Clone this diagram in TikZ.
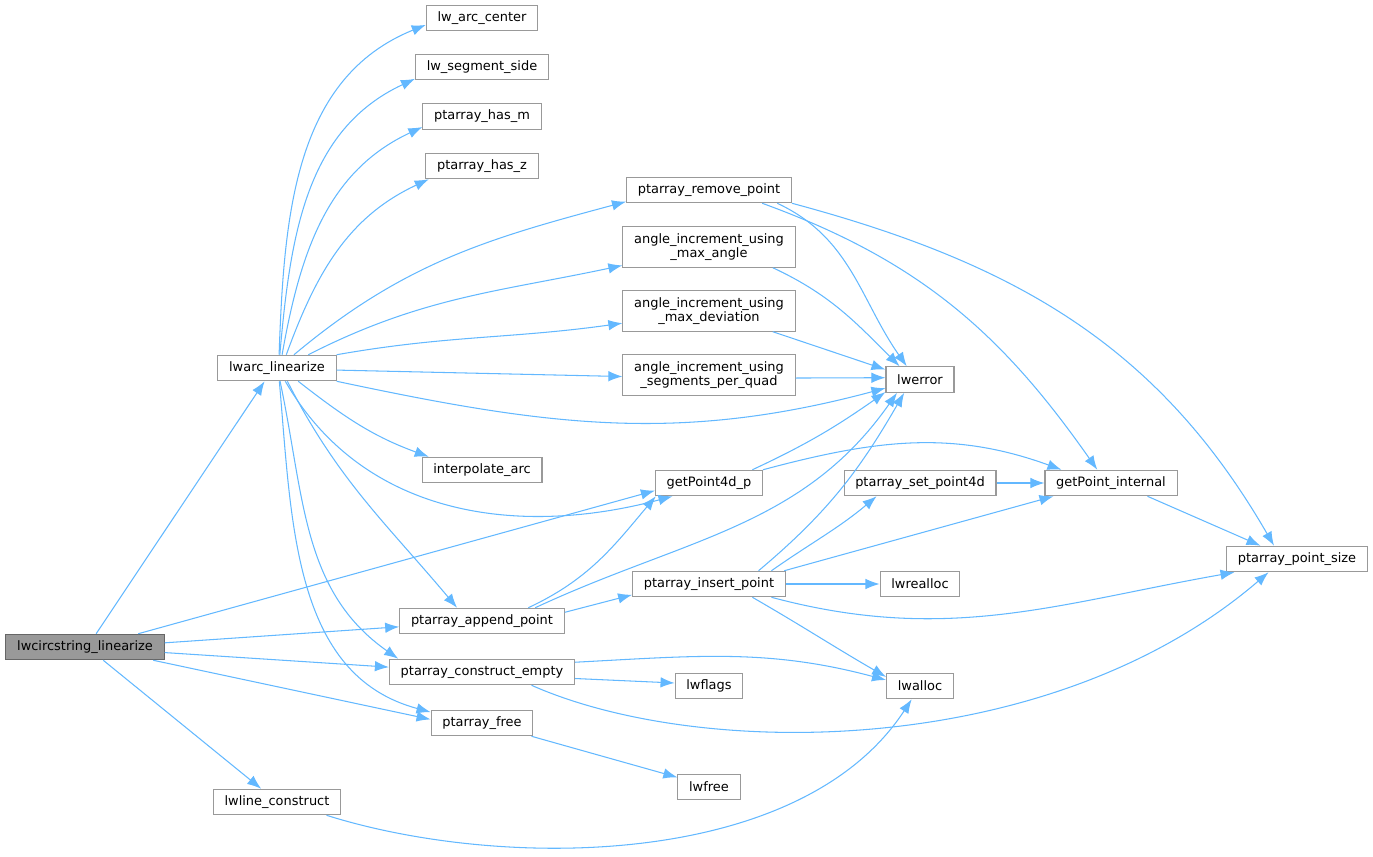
\documentclass[tikz,border=0pt]{standalone}
\usepackage{fontspec}
\setmainfont{DejaVu Sans}
\usetikzlibrary{arrows.meta}
\definecolor{edgeblue}{HTML}{63B8FF}
\definecolor{boxline}{HTML}{999999}
\definecolor{rootline}{HTML}{666666}
\definecolor{rootfill}{HTML}{999999}
\begin{document}
\begin{tikzpicture}[x=0.02cm,y=0.02cm,
  fn/.style={draw=boxline,fill=white,line width=0.6pt,inner xsep=6.4pt,inner ysep=0pt,minimum height=14.5pt,font=\fontsize{7.37}{8.1}\selectfont},
  fntwo/.style={fn,align=center,minimum height=23pt},
  root/.style={fn,draw=rootline,fill=rootfill},
  call/.style={draw=edgeblue,line width=0.6pt,-{Latex[length=8pt,width=6pt]}}]
\path[use as bounding box] (0,0) rectangle (1373,-856);

\node[root] (f0) at (85,-647) {lwcircstring\_linearize};
\node[fn] (arc) at (277,-368) {lwarc\_linearize};
\node[fn] (lwl) at (277,-802) {lwline\_construct};

\node[fn] (cen) at (482,-18) {lw\_arc\_center};
\node[fn] (side) at (482,-67) {lw\_segment\_side};
\node[fn] (hm) at (482,-116.5) {ptarray\_has\_m};
\node[fn] (hz) at (482,-166) {ptarray\_has\_z};
\node[fn] (intp) at (482,-470) {interpolate\_arc};
\node[fn] (app) at (482,-621) {ptarray\_append\_point};
\node[fn] (cemp) at (482,-672) {ptarray\_construct\_empty};
\node[fn] (pfree) at (482,-723) {ptarray\_free};

\node[fn] (rem) at (709,-190) {ptarray\_remove\_point};
\node[fntwo] (amax) at (709,-247) {angle\_increment\_using\\\_max\_angle};
\node[fntwo] (adev) at (709,-311) {angle\_increment\_using\\\_max\_deviation};
\node[fntwo] (aseg) at (709,-375) {angle\_increment\_using\\\_segments\_per\_quad};
\node[fn] (gp4) at (709,-483) {getPoint4d\_p};
\node[fn] (ins) at (709,-584) {ptarray\_insert\_point};
\node[fn] (flags) at (709,-686) {lwflags};
\node[fn] (free) at (709,-787) {lwfree};

\node[fn] (err) at (920,-379.5) {lwerror};
\node[fn] (set4) at (920,-483) {ptarray\_set\_point4d};
\node[fn] (realloc) at (920,-584) {lwrealloc};
\node[fn] (alloc) at (920,-686) {lwalloc};
\node[fn] (gpi) at (1111,-483) {getPoint\_internal};
\node[fn] (psize) at (1297,-559) {ptarray\_point\_size};

\draw[call] (f0.50) -- (arc.-133);
\draw[call] (f0.14) -- (gp4.-172);
\draw[call] (f0.3) -- (app.184);
\draw[call] (f0.-4) -- (cemp.177);
\draw[call] (f0.-11) -- (pfree.176);
\draw[call] (f0.-36) -- (lwl.140);

\draw[call] (arc.81) to[out=88,in=202] (cen.187);
\draw[call] (arc.78) to[out=85,in=205] (side.190);
\draw[call] (arc.69) to[out=80,in=205] (hm.190);
\draw[call] (arc.55) to[out=70,in=205] (hz.194);
\draw[call] (arc.38) to[out=40,in=195] (rem.188);
\draw[call] (arc.23) to[out=27,in=192] (amax.192);
\draw[call] (arc.north east) to[out=10,in=188] (adev.188);
\draw[call] (arc.-2) -- (aseg.181);
\draw[call] (arc.south east) to[out=-12,in=195] (err.194);
\draw[call] (arc.-32) to[out=-38,in=160] (intp.166);
\draw[call] (arc.-58) to[out=-60,in=195] (gp4.-160);
\draw[call] (arc.-52) to[out=-63,in=130] (app.152);
\draw[call] (arc.-77) to[out=-78,in=145] (cemp.171);
\draw[call] (arc.-80) to[out=-85,in=165] (pfree.168);

\draw[call] (rem.-11) to[out=-25,in=125] (err.135);
\draw[call] (rem.-14) to[out=-20,in=125] (gpi.136);
\draw[call] (rem.south east) to[out=-15,in=120] (psize.150);
\draw[call] (amax.-18) to[out=-25,in=135] (err.147);
\draw[call] (adev.-18) -- (err.164);
\draw[call] (aseg.-2) -- (err.177);
\draw[call] (gp4.17) to[out=25,in=215] (err.200);
\draw[call] (gp4.north east) to[out=15,in=160] (gpi.165);

\draw[call] (app.16) to[out=25,in=230] (gp4.-166);
\draw[call] (app.14) to[out=25,in=235] (err.-150);
\draw[call] (app.6) -- (ins.188);
\draw[call] (ins.15) to[out=40,in=240] (err.-140);
\draw[call] (ins.12) to[out=35,in=220] (set4.-163);
\draw[call] (ins.10) -- (gpi.-167);
\draw[call] (ins.east) -- (realloc.west);
\draw[call] (ins.-12) to[out=-15,in=190] (psize.-168);
\draw[call] (ins.-17) to[out=-30,in=150] (alloc.165);
\draw[call] (set4.east) -- (gpi.west);
\draw[call] (gpi.-20) -- (psize.160);

\draw[call] (cemp.6) to[out=3,in=165] (alloc.170);
\draw[call] (cemp.-4) -- (flags.175);
\draw[call] (cemp.-15) .. controls (700,-760) and (1050,-760) .. (psize.-155);
\draw[call] (pfree.-15) -- (free.163);
\draw[call] (lwl.-15) .. controls (500,-870) and (800,-870) .. (alloc.-122);
\end{tikzpicture}
\end{document}
